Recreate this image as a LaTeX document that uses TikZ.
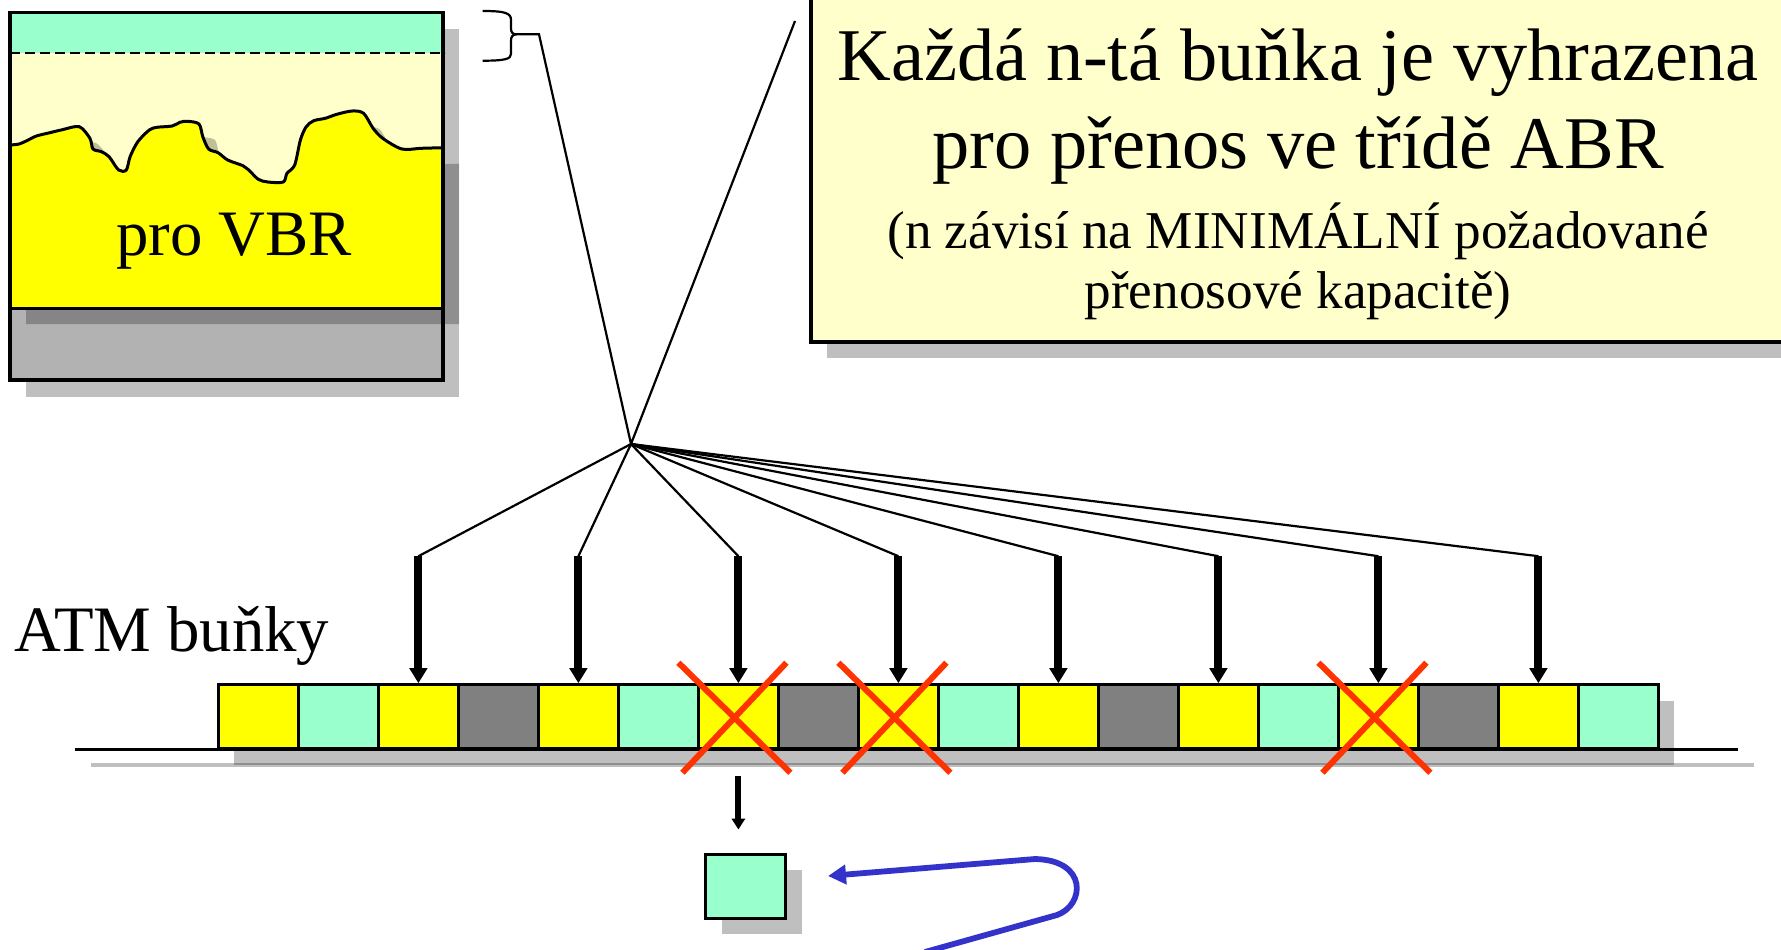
\documentclass[tikz,border=0pt]{standalone}
\usepackage{fontspec}
\setmainfont{Liberation Serif}
\usetikzlibrary{arrows.meta, calc, positioning, shadows}

\definecolor{abrgreen}{HTML}{99FFCC}
\definecolor{vbryellow}{HTML}{FFFF00}
\definecolor{noteyellow}{HTML}{FFFFCC}
\definecolor{cbrgray}{HTML}{808080}
\definecolor{boxgray}{HTML}{B2B2B2}
\definecolor{killred}{HTML}{FF3300}
\definecolor{loopblue}{HTML}{3333CC}

\begin{document}
\begin{tikzpicture}[
            x=0.5pt, y=-0.5pt,
            shadowfill/.style={fill=black, opacity=0.25},
            cell/.style={draw, line width=1.5pt, minimum width=40pt, minimum height=32pt, inner sep=0pt,
                drop shadow={shadow xshift=8pt, shadow yshift=-8pt, fill=black, opacity=0.25}},
            fan/.style={line width=1.1pt},
            feed/.style={line width=4pt, -{Triangle[length=7.5pt, width=8.6pt]}},
            dropline/.style={line width=3pt, -{Triangle[length=5.5pt, width=6.6pt]}},
            strike/.style={draw=killred, line width=3pt},
            returnarrow/.style={draw=loopblue, line width=2.9pt, -{Triangle[length=9pt, width=9.5pt]}},
            bigtext/.style={font=\fontsize{37.2}{40}\selectfont, anchor=base, inner sep=0pt},
            smalltext/.style={font=\fontsize{26.6}{30}\selectfont, anchor=base, inner sep=0pt},
            labeltext/.style={font=\fontsize{32.4}{36}\selectfont, inner sep=0pt},
            wave/.style={insert path={plot[smooth, tension=0.5] coordinates {
                (10,145) (19.1,144) (26.8,140.7) (36.4,136) (49.8,132.7) (61.2,130) (79.2,126.7)
                (89.9,138.3) (93,149) (101.4,151.7) (109.1,156.7) (118.6,170) (126.3,170) (130.1,156.7)
                (137.8,141.7) (149.3,130) (156.9,127.3) (172.2,126) (179.9,122.3) (187.5,121.3) (199,124)
                (202.8,136.7) (208.6,149) (218.1,152.7) (227.7,160) (243,165.7) (248.8,170) (258.3,179.3)
                (267.9,182) (283.2,182) (287,173.3) (294.7,165) (300.4,140) (306.2,126.7) (313.8,120.7)
                (325.3,118.3) (336.8,114.3) (352.1,111) (363.6,113.3) (373.1,128.3) (382.7,138.3)
                (401.8,149) (421,148.3) (443,147.7)}}}
        ]
        \useasboundingbox (0,0) rectangle (1781,949);

        % VBR box
        \fill[shadowfill] (26,29) rectangle (459,397);
        \fill[noteyellow] (10,12.7) rectangle (443,380);
        \fill[abrgreen] (10,12.7) rectangle (443,52.7);
        \draw[line width=0.8pt, dash pattern=on 5pt off 2.5pt] (10,52.7) -- (445,52.7);
        \fill[boxgray] (10,308) rectangle (443,380);
        \fill[shadowfill, shift={(16,16)}] [wave] -- (443,308) -- (10,308) -- cycle;
        \fill[vbryellow] [wave] -- (443,308) -- (10,308) -- cycle;
        \draw[line width=1.5pt] [wave];
        \draw[line width=1.5pt] (10,308) -- (443,308);
        \draw[line width=1.6pt] (10,12.7) rectangle (443,380);
        \node[labeltext, anchor=base] (vbr) at (234,255) {pro VBR};

        \fill[shadowfill] (827,6) rectangle (1830,358);
        \draw[line width=1.6pt, fill=noteyellow] (811,-20) rectangle (1814,342);
        \node[bigtext] (line1) at (1298,80) {Každá n-tá buňka je vyhrazena};
        \node[bigtext] (line2) at (1298,168) {pro přenos ve třídě ABR};
        \node[smalltext] (line3) at (1298,248) {(n závisí na MINIMÁLNÍ požadované};
        \node[smalltext] (line4) at (1298,308) {přenosové kapacitě)};

        \coordinate (hub) at (631,444);
        \coordinate (bracetip) at (516,34.3);
        \coordinate (bracetail) at (539,34.3);
        \coordinate (notecorner) at (795,21);
        \draw[line width=1.1pt] (482.7,11) .. controls (505,11) and (511,13) .. (511,20) -- (511,28)
            .. controls (511,32) and (512,34) .. (bracetip) .. controls (512,35) and (511,37) .. (511,41)
            -- (511,54) .. controls (511,59) and (505,60.7) .. (482.7,60.7);
        \draw[fan] (bracetip) -- (bracetail) -- (hub) -- (notecorner);

        \draw[black, opacity=0.25, line width=2pt] (91,765) -- (1754,765);
        \foreach \col [count=\i from 0] in {vbryellow,abrgreen,vbryellow,cbrgray,vbryellow,abrgreen,
            vbryellow,cbrgray,vbryellow,abrgreen,vbryellow,cbrgray,vbryellow,abrgreen,vbryellow,cbrgray,
            vbryellow,abrgreen}
            \node[cell, fill=\col] (c\i) at (258.4+80*\i, 716.7) {};
        \draw[line width=1.5pt] (75,749) -- (1738,749);

        \foreach \k in {2,4,...,16} {
            \coordinate (t\k) at ($(c\k.north)+(0,-127)$);
            \draw[fan] (hub) -- (t\k);
            \draw[feed] (t\k) -- (c\k.north);
        }
        \foreach \k in {6,8,14} {
            \draw[strike] ($(c\k.center)+(-60,-54)$) -- ($(c\k.center)+(52,56)$);
            \draw[strike] ($(c\k.center)+(48,-54)$) -- ($(c\k.center)+(-56,56)$);
        }
        \node[labeltext, anchor=base west] (atm) at (14,651) {ATM buňky};

        \node[cell, fill=abrgreen] (kept) at (745.5,886) {};
        \draw[dropline, shorten <=13pt, shorten >=11.5pt] (c6.south) -- (c6.south |- kept.north);
        \coordinate (loopstart) at (925,952);
        \coordinate (loopend) at ($(kept.east)+(41,-10)$);
        \draw[returnarrow] (loopstart) -- (1057,915) .. controls (1085,905) and (1088,860) .. (1035,859) -- (loopend);
    \end{tikzpicture}
\end{document}
